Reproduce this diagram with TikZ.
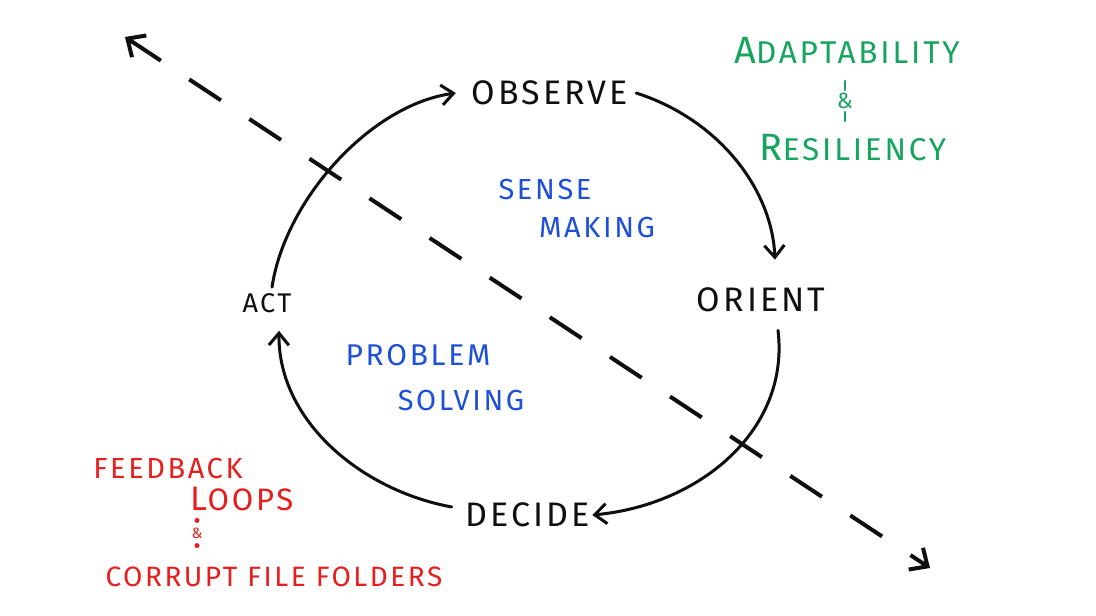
\documentclass[tikz,border=0pt]{standalone}
\usepackage{fontspec}
\setmainfont{Fira Sans}[LetterSpace=9]
\usetikzlibrary{arrows.meta}
\definecolor{mkgreen}{RGB}{22,165,95}
\definecolor{mkblue}{RGB}{30,80,215}
\definecolor{mkred}{RGB}{232,30,30}
\definecolor{mkblack}{RGB}{15,15,15}
\tikzset{
  lbl/.style={text=mkblack,inner sep=0pt,font=\fontsize{34}{36}\selectfont},
  bluelbl/.style={text=mkblue,inner sep=0pt,font=\fontsize{29}{32}\selectfont},
  greenlbl/.style={text=mkgreen,inner sep=0pt,font=\fontsize{31.5}{32}\selectfont},
  redlbl/.style={text=mkred,inner sep=0pt,font=\fontsize{29}{32}\selectfont},
  cyc/.style={draw=mkblack,line width=3pt,line cap=round,-{Straight Barb[length=12pt,width=20pt,line width=3pt]}},
  dashln/.style={draw=mkblack,line width=4pt,dash pattern=on 38pt off 34pt,{Straight Barb[length=14pt,width=26pt,line width=4pt]}-{Straight Barb[length=14pt,width=26pt,line width=4pt]}}
}
\begin{document}
\begin{tikzpicture}[x=1pt,y=-1pt]
\useasboundingbox[fill=white] (0,0) rectangle (1096,616);
% dashed diagonal
\coordinate (dA) at (125,37);
\coordinate (dB) at (930,568);
\draw[dashln] (dA) -- (dB);
% cycle labels
\node[lbl] (obs) at (550,93) {OBSERVE};
\node[lbl] (ori) at (761,300) {ORIENT};
\node[lbl] (dec) at (528,515) {DECIDE};
\node[lbl,font=\fontsize{27}{30}\selectfont] (act) at (267,303) {ACT};
% cycle arrows
\draw[cyc] ([xshift=5pt,yshift=6pt]act.north) .. controls (285,200) and (370,105) .. ([xshift=-16pt]obs.west);
\draw[cyc] ([xshift=8pt]obs.east) .. controls (720,120) and (772,190) .. ([xshift=14pt,yshift=28pt]ori.north);
\draw[cyc] ([xshift=17pt,yshift=-18pt]ori.south) .. controls (790,430) and (700,505) .. ([xshift=2pt]dec.east);
\draw[cyc] ([xshift=-14pt,yshift=8pt]dec.west) .. controls (360,490) and (278,420) .. ([xshift=12pt,yshift=-18pt]act.south);
% blue labels
\node[bluelbl] (sense) at (545,190) {SENSE};
\node[bluelbl] (making) at (597,228) {MAKING};
\node[bluelbl,font=\fontsize{30}{32}\selectfont] (problem) at (418,355) {PROBLEM};
\node[bluelbl] (solving) at (461,401) {SOLVING};
% green labels
\node[greenlbl] (adapt) at (847,50) {{\fontsize{38}{38}\selectfont A}DAPTABILITY};
\node[text=mkgreen,inner sep=0pt,font=\fontsize{22}{24}\selectfont] (gamp) at (845,101) {\&};
\draw[mkgreen,line width=2.5pt,line cap=round] ([yshift=12pt]gamp.north) -- ([yshift=3pt]gamp.north);
\draw[mkgreen,line width=2.5pt,line cap=round] ([yshift=-3pt]gamp.south) -- ([yshift=-12pt]gamp.south);
\node[greenlbl] (resil) at (853,148) {{\fontsize{38}{38}\selectfont R}ESILIENCY};
% red labels
\node[redlbl] (feed) at (168,469) {FEEDBACK};
\node[redlbl,font=\fontsize{31}{34}\selectfont] (loops) at (242,499) {{\fontsize{34}{34}\selectfont L}OOPS};
\node[text=mkred,inner sep=0pt,font=\fontsize{15}{16}\selectfont] (ramp) at (197,533) {\&};
\fill[mkred] ([yshift=7pt]ramp.north) circle (2.5pt);
\fill[mkred] ([yshift=-7pt]ramp.south) circle (2.5pt);
\node[redlbl,font=\fontsize{28}{30}\selectfont] (corrupt) at (274,577) {CORRUPT FILE FOLDERS};
\end{tikzpicture}
\end{document}
